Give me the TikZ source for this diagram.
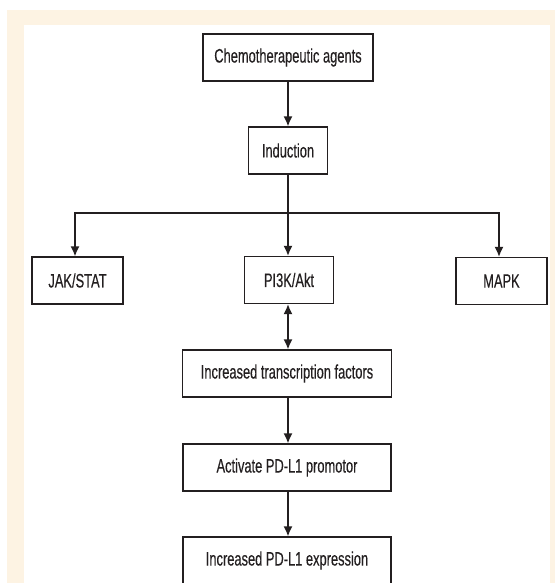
\documentclass[tikz,border=0pt]{standalone}
\usepackage{fontspec}
\setmainfont{Liberation Sans}[FakeStretch=0.66,FakeBold=0.3]
\usetikzlibrary{arrows.meta}
\definecolor{framebeige}{HTML}{FDF3E3}
\definecolor{ink}{HTML}{231F20}
\tikzset{
  box/.style={draw=ink, line width=1.1pt, fill=white, minimum height=47pt, inner sep=0pt,
    font=\fontsize{19.5pt}{21pt}\selectfont, text=ink, anchor=center},
  arr/.style={draw=ink, line width=1.7pt, -{Latex[length=10pt,width=9pt]}},
  darr/.style={draw=ink, line width=1.7pt, {Latex[length=10pt,width=9pt]}-{Latex[length=10pt,width=9pt]}},
  ln/.style={draw=ink, line width=1.7pt}
}
\begin{document}
\begin{tikzpicture}[x=1pt,y=-1pt]
\useasboundingbox (0,0) rectangle (555,583);
\fill[framebeige] (7,10) rectangle (555,583);
\fill[white] (24,25) rectangle (550,583);
\begin{scope}
\clip (0,0) rectangle (555,583);
\node[box, minimum width=170pt] (chemo) at (288,57.5) {Chemotherapeutic agents};
\node[box, minimum width=79pt] (ind) at (288,150.5) {Induction};
\node[box, minimum width=91pt] (jak) at (77.5,280.5) {JAK/STAT};
\node[box, minimum width=89pt] (pi) at (289,280) {PI3K/Akt};
\node[box, minimum width=91pt] (mapk) at (501.5,281) {MAPK};
\node[box, minimum width=209pt] (trans) at (287,373.5) {Increased transcription factors};
\node[box, minimum width=208pt] (act) at (287,467.5) {Activate PD-L1 promotor};
\node[box, minimum width=208pt] (expr) at (287,560.5) {Increased PD-L1 expression};
\end{scope}
\coordinate (bl) at (75,213);
\coordinate (bm) at (288,213);
\coordinate (br) at (499,213);
\draw[arr] (chemo.south) -- (ind.north);
\draw[ln] (ind.south) -- (bm);
\draw[ln, line cap=rect] (bl) -- (br);
\draw[arr] (bl) -- (bl |- jak.north);
\draw[arr] (bm) -- (bm |- pi.north);
\draw[arr] (br) -- (br |- mapk.north);
\draw[darr] (bm |- pi.south) -- (bm |- trans.north);
\draw[arr] (bm |- trans.south) -- (bm |- act.north);
\draw[arr] (bm |- act.south) -- (bm |- expr.north);
\end{tikzpicture}
\end{document}
